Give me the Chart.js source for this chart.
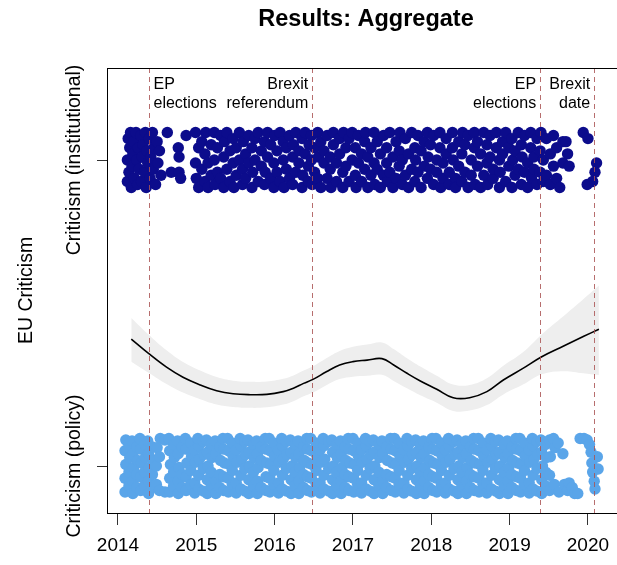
<!DOCTYPE html>
<html>
<head>
<meta charset="utf-8">
<script src="https://cdn.jsdelivr.net/npm/chart.js@4.4.1/dist/chart.umd.min.js"></script>
<style>
  html, body { margin: 0; padding: 0; background: #fff; }
  canvas { display: block; }
</style>
</head>
<body>
<canvas id="chart" width="617" height="565"></canvas>
<script>
const yearTicks = [2014, 2015, 2016, 2017, 2018, 2019, 2020];
const levelTicks = [0, 1];
const levelLabels = ["Criticism (policy)", "Criticism (institutional)"];

const eventYears = [2014.39, 2016.48, 2019.39, 2020.08];
const eventLabels = [["EP", "elections"], ["Brexit", "referendum"], ["EP", "elections"], ["Brexit", "date"]];

// loess fit and its confidence band
const smoothX = [2014.17, 2014.39, 2014.62, 2014.83, 2015.05, 2015.26, 2015.47, 2015.69, 2015.9, 2016.11, 2016.24, 2016.37, 2016.49, 2016.66, 2016.83, 2017.0, 2017.18, 2017.37, 2017.52, 2017.69, 2017.86, 2018.07, 2018.28, 2018.49, 2018.71, 2018.92, 2019.17, 2019.41, 2019.69, 2019.94, 2020.14];
const smoothY = [0.415, 0.368, 0.323, 0.29, 0.265, 0.246, 0.236, 0.233, 0.234, 0.243, 0.254, 0.27, 0.283, 0.308, 0.33, 0.341, 0.346, 0.351, 0.33, 0.303, 0.278, 0.251, 0.223, 0.223, 0.243, 0.281, 0.319, 0.357, 0.392, 0.423, 0.447];
const bandHigh = [0.484, 0.43, 0.378, 0.34, 0.312, 0.291, 0.279, 0.275, 0.276, 0.285, 0.296, 0.312, 0.326, 0.352, 0.376, 0.39, 0.397, 0.404, 0.382, 0.352, 0.325, 0.295, 0.266, 0.265, 0.287, 0.328, 0.372, 0.43, 0.49, 0.545, 0.59];
const bandLow = [0.341, 0.305, 0.268, 0.24, 0.218, 0.201, 0.193, 0.19, 0.192, 0.201, 0.212, 0.228, 0.24, 0.264, 0.284, 0.292, 0.295, 0.298, 0.278, 0.254, 0.231, 0.207, 0.18, 0.181, 0.199, 0.234, 0.266, 0.3, 0.31, 0.303, 0.297];

// jittered observations: [year, level]
const institutional = [
  [2014.12,0.93],[2014.12,1.0],[2014.13,1.07],[2014.14,0.96],[2014.15,1.04],[2014.16,1.09],[2014.17,0.91],[2014.18,0.98],
  [2014.19,1.02],[2014.2,1.06],[2014.21,0.94],[2014.23,1.09],[2014.24,1.0],[2014.25,0.92],[2014.26,1.04],[2014.27,0.97],
  [2014.29,1.08],[2014.3,0.93],[2014.31,1.01],[2014.32,1.05],[2014.34,0.96],[2014.35,1.09],[2014.36,0.91],[2014.37,1.03],
  [2014.38,0.99],[2014.4,1.07],[2014.41,0.94],[2014.42,1.01],[2014.44,1.09],[2014.45,0.97],[2014.46,1.04],[2014.48,0.92],
  [2014.5,1.06],[2014.51,0.99],[2014.53,1.03],[2014.55,0.95],
  [2014.63,1.09],[2014.68,0.96],[2014.77,1.04],[2014.78,1.01],[2014.78,0.96],[2014.8,0.94],[2014.87,1.08],
  [2014.99,1.09],[2014.99,0.99],[2015.0,0.94],[2015.03,0.91],[2015.03,1.04],[2015.07,1.06],[2015.07,0.97],
  [2015.11,0.93],[2015.11,1.02],[2015.12,1.09],[2015.15,0.99],[2015.15,0.91],[2015.19,1.05],[2015.19,0.95],
  [2015.23,1.09],[2015.23,1.0],[2015.24,0.92],[2015.27,0.96],[2015.27,1.04],[2015.31,1.08],[2015.31,0.94],
  [2015.35,1.01],[2015.35,0.91],[2015.36,1.06],[2015.39,0.97],[2015.39,1.09],[2015.43,1.03],[2015.43,0.93],
  [2015.47,1.07],[2015.47,0.99],[2015.48,0.91],[2015.51,0.95],[2015.51,1.04],[2015.55,1.09],[2015.55,1.0],
  [2015.59,0.92],[2015.59,0.97],[2015.6,1.06],[2015.63,1.02],[2015.63,0.94],[2015.67,1.08],[2015.67,0.99],
  [2015.71,0.91],[2015.71,1.04],[2015.72,0.96],[2015.75,1.07],[2015.75,1.0],[2015.79,0.93],[2015.79,1.09],
  [2015.83,0.98],[2015.83,1.03],[2015.87,1.06],[2015.87,0.92],[2015.88,0.96],[2015.91,1.01],[2015.91,1.09],
  [2015.95,0.94],[2015.95,1.05],[2015.99,0.91],[2015.99,0.99],[2016.0,1.08],[2016.03,1.03],[2016.03,0.96],
  [2016.07,1.09],[2016.07,0.93],[2016.11,1.0],[2016.11,1.06],[2016.12,0.91],[2016.15,0.97],[2016.15,1.04],
  [2016.19,1.08],[2016.19,0.94],[2016.23,1.01],[2016.23,0.92],[2016.24,1.05],[2016.27,0.96],[2016.27,1.09],
  [2016.31,1.03],[2016.31,0.99],[2016.35,0.91],[2016.35,1.07],[2016.36,0.95],[2016.39,1.02],[2016.39,1.09],
  [2016.43,0.93],[2016.43,0.98],[2016.44,1.05],[2016.47,1.08],[2016.47,1.0],[2016.48,0.92],[2016.51,0.96],
  [2016.51,1.04],[2016.55,1.09],[2016.55,0.94],[2016.56,1.01],[2016.59,0.91],[2016.59,1.06],[2016.63,0.99],
  [2016.63,1.03],[2016.67,1.08],[2016.67,0.94],[2016.71,0.97],[2016.71,1.01],[2016.72,0.91],[2016.75,1.05],
  [2016.75,1.09],[2016.79,0.93],[2016.79,0.99],[2016.83,1.07],[2016.83,1.02],[2016.87,0.96],[2016.87,0.91],
  [2016.88,1.09],[2016.91,1.04],[2016.91,0.98],[2016.95,0.93],[2016.95,1.07],[2016.99,1.0],[2016.99,1.09],
  [2017.03,0.95],[2017.03,1.04],[2017.04,0.91],[2017.07,1.08],[2017.07,0.99],[2017.11,1.02],[2017.11,0.93],
  [2017.15,0.97],[2017.15,1.06],[2017.16,1.09],[2017.19,0.91],[2017.19,1.01],[2017.23,1.04],[2017.23,0.95],
  [2017.27,1.09],[2017.27,0.99],[2017.28,0.92],[2017.31,1.06],[2017.31,0.97],[2017.35,1.02],[2017.35,0.91],
  [2017.39,0.95],[2017.39,1.08],[2017.43,1.04],[2017.43,0.99],[2017.44,0.93],[2017.47,1.09],[2017.47,0.96],
  [2017.51,1.01],[2017.51,0.91],[2017.55,1.06],[2017.55,0.94],[2017.59,0.98],[2017.59,1.03],[2017.6,1.09],
  [2017.63,0.92],[2017.63,1.0],[2017.67,1.07],[2017.67,0.95],[2017.71,1.02],[2017.71,0.91],[2017.75,0.97],
  [2017.75,1.09],[2017.79,1.04],[2017.79,0.93],[2017.8,1.0],[2017.83,1.08],[2017.83,0.96],[2017.87,0.91],
  [2017.87,1.03],[2017.91,1.06],[2017.91,0.98],[2017.95,0.94],[2017.95,1.09],[2017.96,1.01],[2017.99,0.97],
  [2017.99,1.05],[2018.03,1.08],[2018.03,0.92],[2018.07,1.0],[2018.07,0.96],[2018.11,1.04],[2018.11,1.09],
  [2018.12,0.91],[2018.15,0.94],[2018.15,0.99],[2018.19,1.07],[2018.19,1.02],[2018.23,0.92],[2018.23,0.96],
  [2018.27,1.09],[2018.27,1.04],[2018.28,1.0],[2018.31,0.94],[2018.31,0.91],[2018.35,1.06],[2018.35,0.98],
  [2018.39,1.02],[2018.39,0.93],[2018.4,1.09],[2018.43,0.96],[2018.43,1.05],[2018.47,1.08],[2018.47,0.91],
  [2018.51,1.0],[2018.51,0.95],[2018.55,1.04],[2018.55,1.09],[2018.56,0.92],[2018.59,0.98],[2018.59,1.06],
  [2018.63,0.91],[2018.63,1.02],[2018.67,1.09],[2018.67,0.95],[2018.71,0.99],[2018.71,1.05],[2018.72,0.92],
  [2018.75,1.08],[2018.75,1.01],[2018.79,0.94],[2018.79,0.97],[2018.83,1.04],[2018.83,1.09],[2018.87,0.91],
  [2018.87,1.0],[2018.88,0.96],[2018.91,1.06],[2018.91,1.02],[2018.95,0.93],[2018.95,1.09],[2018.99,0.98],
  [2018.99,1.04],[2019.03,1.07],[2019.03,0.91],[2019.04,1.0],[2019.07,0.95],[2019.07,1.03],[2019.11,1.09],
  [2019.11,0.97],[2019.15,0.92],[2019.15,1.05],[2019.16,1.01],[2019.19,1.08],[2019.19,0.96],[2019.23,0.99],
  [2019.23,0.91],[2019.27,1.04],[2019.27,1.09],[2019.28,0.94],[2019.31,1.01],[2019.31,0.97],[2019.35,1.07],
  [2019.35,0.92],[2019.39,0.96],[2019.39,1.03],[2019.4,1.09],[2019.43,1.0],[2019.43,0.93],
  [2019.47,1.07],[2019.47,0.95],[2019.52,1.02],[2019.52,0.92],[2019.56,1.08],[2019.56,0.98],[2019.6,0.94],
  [2019.6,1.04],[2019.64,0.91],[2019.68,1.06],[2019.68,0.99],[2019.72,1.06],[2019.74,1.02],[2019.76,0.98],
  [2019.94,1.09],[2020.0,1.07],[2020.11,0.99],[2020.09,0.96],[2020.06,0.93],[2019.99,0.92]
];

const policy = [
  [2014.09,-0.085],[2014.09,-0.04],[2014.1,0.005],[2014.09,0.05],[2014.1,0.085],
  [2014.14,-0.065],[2014.14,-0.02],[2014.15,0.028],[2014.14,0.07],
  [2014.19,-0.09],[2014.19,-0.05],[2014.2,-0.005],[2014.19,0.04],[2014.18,0.082],
  [2014.24,-0.07],[2014.24,-0.028],[2014.25,0.018],[2014.24,0.062],
  [2014.29,-0.08],[2014.29,-0.035],[2014.3,0.01],[2014.29,0.055],[2014.28,0.09],
  [2014.34,-0.065],[2014.34,-0.02],[2014.35,0.028],[2014.34,0.07],
  [2014.39,-0.09],[2014.39,-0.05],[2014.4,-0.005],[2014.39,0.04],[2014.38,0.082],
  [2014.44,-0.07],[2014.44,-0.028],[2014.45,0.018],[2014.44,0.062],
  [2014.49,-0.06],[2014.49,0.0],[2014.5,0.06],
  [2014.53,-0.08],[2014.53,0.03],[2014.54,0.09],
  [2014.6,0.085],[2014.6,-0.085],
  [2014.66,-0.085],[2014.66,-0.04],[2014.67,0.005],[2014.66,0.05],[2014.65,0.09],
  [2014.71,-0.065],[2014.71,-0.02],[2014.72,0.028],[2014.71,0.07],
  [2014.77,-0.09],[2014.77,-0.05],[2014.78,-0.005],[2014.77,0.04],[2014.76,0.082],
  [2014.82,-0.07],[2014.82,-0.028],[2014.82,0.062],
  [2014.87,-0.08],[2014.87,-0.035],[2014.88,0.01],[2014.87,0.055],[2014.86,0.09],
  [2014.93,-0.06],[2014.93,-0.015],[2014.94,0.032],[2014.93,0.075],
  [2014.98,-0.088],[2014.98,-0.055],[2014.99,0.012],[2014.98,0.052],
  [2015.03,-0.075],[2015.03,-0.03],[2015.04,0.022],[2015.03,0.066],[2015.02,0.09],
  [2015.09,-0.082],[2015.09,-0.008],[2015.1,0.038],[2015.09,0.08],
  [2015.14,-0.09],[2015.14,-0.045],[2015.15,0.0],[2015.14,0.045],[2015.13,0.085],
  [2015.19,-0.065],[2015.19,-0.02],[2015.2,0.028],[2015.19,0.07],
  [2015.25,-0.09],[2015.25,-0.05],[2015.25,0.04],[2015.24,0.082],
  [2015.3,-0.07],[2015.3,-0.028],[2015.31,0.018],[2015.3,0.062],
  [2015.35,-0.08],[2015.35,-0.035],[2015.36,0.01],[2015.35,0.055],[2015.34,0.09],
  [2015.41,-0.085],[2015.41,-0.04],[2015.42,0.005],[2015.41,0.05],[2015.4,0.09],
  [2015.46,-0.06],[2015.46,-0.015],[2015.47,0.032],[2015.46,0.075],
  [2015.51,-0.088],[2015.51,-0.055],[2015.52,0.012],[2015.51,0.052],
  [2015.57,-0.075],[2015.57,-0.03],[2015.58,0.022],[2015.57,0.066],[2015.56,0.09],
  [2015.62,-0.082],[2015.62,-0.008],[2015.63,0.038],[2015.62,0.08],
  [2015.67,-0.09],[2015.67,-0.045],[2015.68,0.0],[2015.67,0.045],[2015.66,0.085],
  [2015.73,-0.065],[2015.73,-0.02],[2015.74,0.028],[2015.73,0.07],
  [2015.78,-0.09],[2015.78,-0.05],[2015.79,-0.005],[2015.78,0.04],[2015.77,0.082],
  [2015.83,-0.07],[2015.83,0.018],[2015.83,0.062],
  [2015.89,-0.08],[2015.89,-0.035],[2015.9,0.01],[2015.89,0.055],[2015.88,0.09],
  [2015.94,-0.085],[2015.94,-0.04],[2015.95,0.005],[2015.94,0.05],[2015.93,0.09],
  [2015.99,-0.06],[2015.99,-0.015],[2016.0,0.032],[2015.99,0.075],
  [2016.05,-0.088],[2016.05,-0.055],[2016.06,0.012],[2016.05,0.052],
  [2016.1,-0.075],[2016.1,-0.03],[2016.11,0.022],[2016.1,0.066],[2016.09,0.09],
  [2016.15,-0.082],[2016.15,-0.008],[2016.16,0.038],[2016.15,0.08],
  [2016.21,-0.09],[2016.21,-0.045],[2016.22,0.0],[2016.21,0.045],[2016.2,0.085],
  [2016.26,-0.065],[2016.26,-0.02],[2016.27,0.028],[2016.26,0.07],
  [2016.31,-0.09],[2016.31,-0.05],[2016.32,-0.005],[2016.31,0.04],[2016.3,0.082],
  [2016.37,-0.07],[2016.37,-0.028],[2016.38,0.018],[2016.37,0.062],
  [2016.42,-0.08],[2016.42,-0.035],[2016.43,0.01],[2016.42,0.055],[2016.41,0.09],
  [2016.47,-0.085],[2016.47,-0.04],[2016.48,0.005],[2016.47,0.05],[2016.46,0.09],
  [2016.53,-0.06],[2016.53,-0.015],[2016.54,0.032],[2016.53,0.075],
  [2016.58,-0.088],[2016.58,-0.055],[2016.59,0.012],[2016.58,0.052],
  [2016.63,-0.075],[2016.63,-0.03],[2016.64,0.022],[2016.63,0.066],[2016.62,0.09],
  [2016.69,-0.082],[2016.69,-0.008],[2016.69,0.08],
  [2016.74,-0.09],[2016.74,-0.045],[2016.75,0.0],[2016.74,0.045],[2016.73,0.085],
  [2016.79,-0.065],[2016.79,-0.02],[2016.8,0.028],[2016.79,0.07],
  [2016.85,-0.09],[2016.85,-0.05],[2016.86,-0.005],[2016.85,0.04],[2016.84,0.082],
  [2016.9,-0.07],[2016.9,-0.028],[2016.91,0.018],[2016.9,0.062],
  [2016.95,-0.08],[2016.95,-0.035],[2016.96,0.01],[2016.95,0.055],[2016.94,0.09],
  [2017.01,-0.085],[2017.01,-0.04],[2017.02,0.005],[2017.01,0.05],[2017.0,0.09],
  [2017.06,-0.06],[2017.06,-0.015],[2017.07,0.032],[2017.06,0.075],
  [2017.11,-0.088],[2017.11,-0.055],[2017.12,0.012],[2017.11,0.052],
  [2017.17,-0.075],[2017.17,-0.03],[2017.18,0.022],[2017.17,0.066],[2017.16,0.09],
  [2017.22,-0.082],[2017.22,-0.008],[2017.23,0.038],[2017.22,0.08],
  [2017.27,-0.09],[2017.27,-0.045],[2017.28,0.0],[2017.27,0.045],[2017.26,0.085],
  [2017.33,-0.065],[2017.33,-0.02],[2017.34,0.028],[2017.33,0.07],
  [2017.38,-0.09],[2017.38,-0.05],[2017.38,0.04],[2017.37,0.082],
  [2017.43,-0.07],[2017.43,-0.028],[2017.44,0.018],[2017.43,0.062],
  [2017.49,-0.08],[2017.49,-0.035],[2017.5,0.01],[2017.49,0.055],[2017.48,0.09],
  [2017.54,-0.085],[2017.54,-0.04],[2017.55,0.005],[2017.54,0.05],[2017.53,0.09],
  [2017.59,-0.06],[2017.59,-0.015],[2017.6,0.032],[2017.59,0.075],
  [2017.65,-0.088],[2017.65,-0.055],[2017.66,0.012],[2017.65,0.052],
  [2017.7,-0.075],[2017.7,-0.03],[2017.71,0.022],[2017.7,0.066],[2017.69,0.09],
  [2017.75,-0.082],[2017.75,-0.008],[2017.76,0.038],[2017.75,0.08],
  [2017.81,-0.09],[2017.81,-0.045],[2017.82,0.0],[2017.81,0.045],[2017.8,0.085],
  [2017.86,-0.065],[2017.86,-0.02],[2017.87,0.028],[2017.86,0.07],
  [2017.91,-0.09],[2017.91,-0.05],[2017.92,-0.005],[2017.91,0.04],[2017.9,0.082],
  [2017.97,-0.07],[2017.97,-0.028],[2017.98,0.018],[2017.97,0.062],
  [2018.02,-0.08],[2018.02,-0.035],[2018.03,0.01],[2018.02,0.055],[2018.01,0.09],
  [2018.07,-0.085],[2018.07,-0.04],[2018.08,0.005],[2018.07,0.05],[2018.06,0.09],
  [2018.13,-0.06],[2018.13,-0.015],[2018.14,0.032],[2018.13,0.075],
  [2018.18,-0.088],[2018.18,-0.055],[2018.19,0.012],[2018.18,0.052],
  [2018.23,-0.075],[2018.23,-0.03],[2018.24,0.022],[2018.23,0.066],[2018.22,0.09],
  [2018.29,-0.082],[2018.29,-0.008],[2018.3,0.038],[2018.29,0.08],
  [2018.34,-0.09],[2018.34,-0.045],[2018.35,0.0],[2018.34,0.045],[2018.33,0.085],
  [2018.39,-0.065],[2018.39,-0.02],[2018.4,0.028],[2018.39,0.07],
  [2018.45,-0.09],[2018.45,-0.05],[2018.46,-0.005],[2018.45,0.04],[2018.44,0.082],
  [2018.5,-0.07],[2018.5,-0.028],[2018.51,0.018],[2018.5,0.062],
  [2018.55,-0.08],[2018.55,-0.035],[2018.56,0.01],[2018.55,0.055],[2018.54,0.09],
  [2018.61,-0.085],[2018.61,-0.04],[2018.62,0.005],[2018.61,0.05],[2018.6,0.09],
  [2018.66,-0.06],[2018.66,-0.015],[2018.67,0.032],[2018.66,0.075],
  [2018.71,-0.088],[2018.71,-0.055],[2018.72,0.012],[2018.71,0.052],
  [2018.77,-0.075],[2018.77,-0.03],[2018.78,0.022],[2018.77,0.066],[2018.76,0.09],
  [2018.82,-0.082],[2018.82,-0.008],[2018.83,0.038],[2018.82,0.08],
  [2018.87,-0.09],[2018.87,-0.045],[2018.88,0.0],[2018.87,0.045],[2018.86,0.085],
  [2018.93,-0.065],[2018.93,-0.02],[2018.94,0.028],[2018.93,0.07],
  [2018.98,-0.09],[2018.98,-0.05],[2018.99,-0.005],[2018.98,0.04],[2018.97,0.082],
  [2019.03,-0.07],[2019.03,-0.028],[2019.04,0.018],[2019.03,0.062],
  [2019.09,-0.08],[2019.09,-0.035],[2019.1,0.01],[2019.09,0.055],[2019.08,0.09],
  [2019.14,-0.085],[2019.14,-0.04],[2019.15,0.005],[2019.14,0.05],[2019.13,0.09],
  [2019.19,-0.06],[2019.19,-0.015],[2019.2,0.032],[2019.19,0.075],
  [2019.25,-0.088],[2019.25,-0.055],[2019.26,0.012],[2019.25,0.052],
  [2019.3,-0.075],[2019.3,-0.03],[2019.31,0.022],[2019.3,0.066],[2019.29,0.09],
  [2019.35,-0.082],[2019.35,-0.008],[2019.36,0.038],[2019.35,0.08],
  [2019.41,-0.09],[2019.41,-0.045],[2019.42,0.0],[2019.41,0.045],[2019.4,0.085],
  [2019.46,-0.065],[2019.46,-0.02],[2019.47,0.028],[2019.46,0.07],
  [2019.51,-0.08],[2019.51,-0.03],[2019.52,0.03],[2019.51,0.085],
  [2019.57,-0.06],[2019.58,0.06],[2019.56,0.09],[2019.63,-0.085],[2019.62,0.075],
  [2019.68,0.04],[2019.7,-0.06],[2019.74,-0.08],[2019.76,-0.055],[2019.8,-0.07],[2019.83,-0.09],[2019.87,-0.09],
  [2019.9,0.09],[2019.95,0.09],[2019.99,0.085],[2020.02,0.07],
  [2020.04,0.045],[2020.05,0.01],[2020.06,-0.02],[2020.08,-0.05],[2020.09,-0.075],[2020.12,0.03],[2020.13,-0.01]
];

const FONT = '"Liberation Sans", Arial, Helvetica, sans-serif';

function toXY(xs, ys) {
  return xs.map((x, i) => ({ x: x, y: ys[i] }));
}

const extras = {
  id: 'extras',
  afterDatasetsDraw(chart) {
    const { ctx, chartArea: a, scales: { x } } = chart;
    ctx.save();
    // event markers
    ctx.strokeStyle = 'rgba(170, 85, 85, 0.85)';
    ctx.lineWidth = 1;
    ctx.setLineDash([5, 4]);
    eventYears.forEach(yr => {
      const px = Math.round(x.getPixelForValue(yr)) + 0.5;
      ctx.beginPath();
      ctx.moveTo(px, a.top);
      ctx.lineTo(px, a.bottom);
      ctx.stroke();
    });
    ctx.setLineDash([]);
    ctx.fillStyle = '#000';
    ctx.font = '16px ' + FONT;
    ctx.textBaseline = 'middle';
    eventYears.forEach((yr, i) => {
      const px = x.getPixelForValue(yr);
      const onRight = i === 0;
      ctx.textAlign = onRight ? 'left' : 'right';
      const tx = onRight ? px + 5 : px - 4;
      ctx.fillText(eventLabels[i][0], tx, 85);
      ctx.fillText(eventLabels[i][1], tx, 104);
    });
    // top of the box
    ctx.strokeStyle = '#000';
    ctx.beginPath();
    ctx.moveTo(a.left, a.top + 0.5);
    ctx.lineTo(a.right, a.top + 0.5);
    ctx.stroke();
    ctx.restore();
  },
  afterDraw(chart) {
    const { ctx, chartArea: a, scales: { y } } = chart;
    ctx.save();
    ctx.fillStyle = '#000';
    ctx.textAlign = 'center';
    ctx.textBaseline = 'middle';
    ctx.font = 'bold 23.5px ' + FONT;
    ctx.fillText('Results: Aggregate', 366, 20);

    ctx.font = '19.5px ' + FONT;
    levelTicks.forEach((v, i) => {
      ctx.save();
      ctx.translate(75, y.getPixelForValue(v));
      ctx.rotate(-Math.PI / 2);
      ctx.fillText(levelLabels[i], 0, 0);
      ctx.restore();
    });
    ctx.save();
    ctx.translate(27, (a.top + a.bottom) / 2);
    ctx.rotate(-Math.PI / 2);
    ctx.fillText('EU Criticism', 0, 0);
    ctx.restore();
    ctx.restore();
  }
};

new Chart(document.getElementById('chart'), {
  type: 'scatter',
  data: {
    datasets: [
      {
        type: 'line',
        data: toXY(smoothX, smoothY),
        borderColor: '#000',
        borderWidth: 1.6,
        pointRadius: 0,
        tension: 0.4,
        fill: false
      },
      {
        type: 'line',
        data: toXY(smoothX, bandLow),
        borderWidth: 0,
        pointRadius: 0,
        tension: 0.4,
        fill: false
      },
      {
        type: 'line',
        data: toXY(smoothX, bandHigh),
        borderWidth: 0,
        pointRadius: 0,
        tension: 0.4,
        backgroundColor: '#eeeeee',
        fill: '-1'
      },
      {
        data: institutional.map(p => ({ x: p[0], y: p[1] })),
        backgroundColor: '#0c0c8c',
        borderWidth: 0,
        pointRadius: 5.7
      },
      {
        data: policy.map(p => ({ x: p[0], y: p[1] })),
        backgroundColor: '#5aa5e9',
        borderWidth: 0,
        pointRadius: 5.7
      }
    ]
  },
  options: {
    responsive: false,
    animation: false,
    events: [],
    layout: { autoPadding: false, padding: { top: 68, right: 0, bottom: 0, left: 0 } },
    plugins: {
      legend: { display: false },
      tooltip: { enabled: false },
      title: { display: false }
    },
    scales: {
      x: {
        type: 'linear',
        min: 2013.86,
        max: 2020.371,
        afterBuildTicks: s => { s.ticks = yearTicks.map(v => ({ value: v })); },
        afterFit: s => { s.height = 52; s.paddingLeft = 0; s.paddingRight = 0; },
        grid: { drawOnChartArea: false, drawTicks: true, tickLength: 12, color: '#333', tickColor: '#333' },
        border: { display: true, color: '#000', width: 1 },
        ticks: { color: '#000', font: { family: FONT, size: 19 }, padding: 9, maxRotation: 0, autoSkip: false, callback: v => String(v) }
      },
      y: {
        type: 'linear',
        min: -0.1536,
        max: 1.3007,
        afterBuildTicks: s => { s.ticks = levelTicks.map(v => ({ value: v })); },
        afterFit: s => { s.width = 107; s.paddingTop = 0; s.paddingBottom = 0; },
        grid: { drawOnChartArea: false, drawTicks: true, tickLength: 10, color: '#333', tickColor: '#333' },
        border: { display: true, color: '#000', width: 1 },
        ticks: { display: false }
      }
    }
  },
  plugins: [extras]
});
</script>
</body>
</html>
